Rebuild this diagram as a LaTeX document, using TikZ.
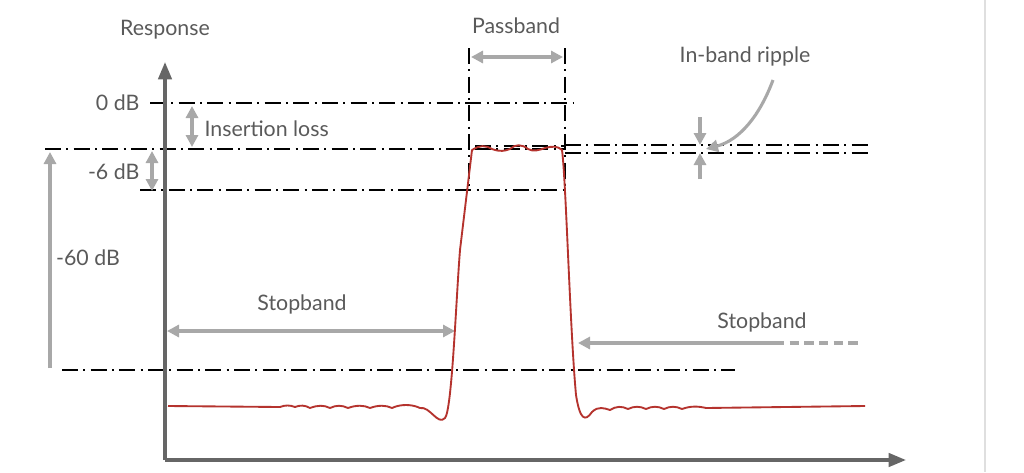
\documentclass[tikz,border=0pt]{standalone}
\usepackage{fontspec}
\setmainfont{Lato}
\usetikzlibrary{arrows.meta}
\definecolor{txt}{HTML}{5A5A5A}
\definecolor{axis}{HTML}{666666}
\definecolor{arr}{HTML}{A8A8A8}
\definecolor{curve}{HTML}{B5332E}
\begin{document}
\begin{tikzpicture}[x=0.75pt,y=-0.75pt,
  lbl/.style={text=txt,font=\fontsize{16}{19}\selectfont,inner sep=1pt},
  dd/.style={draw=black,line width=1.3pt,dash pattern=on 12pt off 4pt on 1.5pt off 4pt},
  garr/.style={draw=arr,line width=2.3pt,-{Triangle[length=9pt,width=9pt]}},
  gdarr/.style={draw=arr,line width=2.3pt,{Triangle[length=9pt,width=9pt]}-{Triangle[length=9pt,width=9pt]}}]
\useasboundingbox (0,0) rectangle (1024,472);
\fill[white] (0,0) rectangle (1024,472);
\draw[gray!25,line width=1pt] (985,0) -- (985,472);
% coordinates
\coordinate (o) at (165,460);
\coordinate (ytop) at (165,62);
\coordinate (xend) at (906,460);
% dash-dot lines
\draw[dd] (150,103) -- (573,103);
\draw[dd] (45,149) -- (565,149);
\draw[dd] (565,145) -- (870,145);
\draw[dd] (565,153) -- (870,153);
\draw[dd] (475,146) -- (565,146);
\draw[dd] (140,190) -- (565,190);
\draw[dd] (62,370) -- (735,370);
\draw[dd] (469,48) -- (469,190);
\draw[dd] (565,48) -- (565,190);
% axes
\draw[axis,line width=2.5pt,-{Triangle[length=13pt,width=10pt]}] (o) -- (ytop);
\draw[axis,line width=2.5pt,-{Triangle[length=13pt,width=10pt]}] (o) -- (xend);
% labels
\node[lbl] (resp) at (165,30) {Response};
\node[lbl,anchor=east] (z) at (141,103) {0 dB};
\node[lbl,anchor=east] (s) at (141,172) {-6 dB};
\node[lbl] (s60) at (88,258) {-60 dB};
\node[lbl,anchor=west] (il) at (203,129) {Insertion loss};
\node[lbl] (pb) at (516,26) {Passband};
\node[lbl] (ibr) at (745,56) {In-band ripple};
\node[lbl] (sb1) at (302,304) {Stopband};
\node[lbl] (sb2) at (762,322) {Stopband};
% gray arrows
\coordinate (il1) at (192,106); \coordinate (il2) at (192,147);
\draw[gdarr] (il1) -- (il2);
\coordinate (s1) at (152,151); \coordinate (s2) at (152,191);
\draw[gdarr] (s1) -- (s2);
\coordinate (a1) at (50,368); \coordinate (a2) at (50,152);
\draw[garr] (a1) -- (a2);
\coordinate (p1) at (471,57); \coordinate (p2) at (563,57);
\draw[gdarr] (p1) -- (p2);
\coordinate (l1) at (167,331); \coordinate (l2) at (455,331);
\draw[gdarr] (l1) -- (l2);
\coordinate (r1) at (775,343); \coordinate (r2) at (578,343);
\coordinate (r3) at (862,343);
\draw[garr] (r1) -- (r2);
\draw[draw=arr,line width=2.3pt,dash pattern=on 7pt off 4pt] (r1) -- (r3);
\coordinate (c1) at (773,80); \coordinate (c2) at (706,149);
\draw[garr] (c1) .. controls (760,115) and (740,140) .. (c2);
\coordinate (t1) at (700,117); \coordinate (t2) at (700,145);
\draw[garr] (t1) -- (t2);
\coordinate (u1) at (700,179); \coordinate (u2) at (700,153);
\draw[garr] (u1) -- (u2);
% response curve
\draw[curve,line width=1.4pt,line join=round]
 (168,406) -- (280,407) .. controls (285,405) and (290,405) .. (295,407)
 .. controls (300,405) and (305,405) .. (310,408)
 .. controls (318,405) and (324,405) .. (330,408)
 .. controls (336,405) and (342,405) .. (348,408)
 .. controls (356,405) and (364,405) .. (370,408)
 .. controls (378,405) and (386,405) .. (392,408)
 .. controls (400,404) and (412,404) .. (420,408)
 .. controls (430,406) and (438,426) .. (445,418)
 .. controls (452,410) and (456,300) .. (460,250)
 -- (472,150) .. controls (480,145) and (485,145) .. (492,149)
 .. controls (500,152) and (505,151) .. (510,149)
 .. controls (515,144) and (522,144) .. (528,149)
 .. controls (533,152) and (540,150) .. (545,148)
 .. controls (552,146) and (558,146) .. (562,150)
 .. controls (566,180) and (570,330) .. (576,395)
 .. controls (580,420) and (585,422) .. (592,412)
 .. controls (598,406) and (604,408) .. (610,410)
 .. controls (616,406) and (622,406) .. (628,409)
 .. controls (634,406) and (640,406) .. (646,409)
 .. controls (652,406) and (658,406) .. (664,409)
 .. controls (670,406) and (676,406) .. (682,409)
 .. controls (690,406) and (698,406) .. (706,408)
 -- (865,406);
\end{tikzpicture}
\end{document}
